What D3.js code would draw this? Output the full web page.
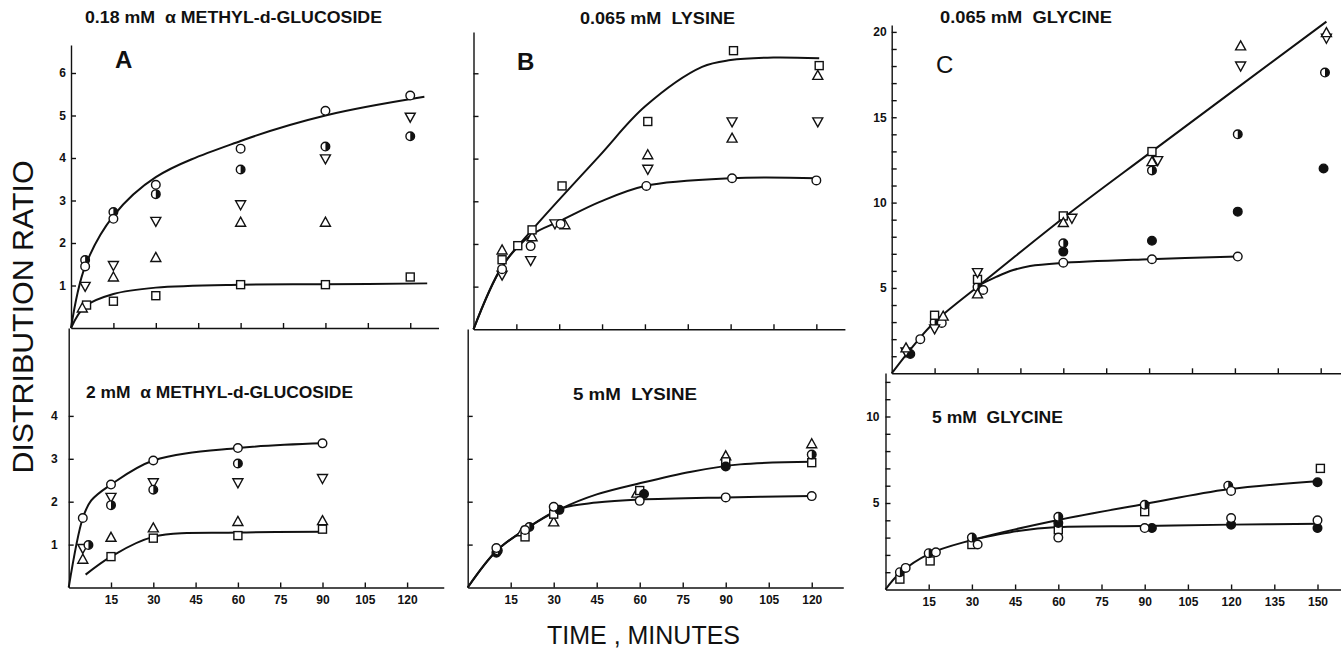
<!DOCTYPE html>
<html lang="en">
<head>
<meta charset="UTF-8">
<title>Distribution ratio vs time</title>
<script src="https://cdn.jsdelivr.net/npm/d3@7"></script>
<style>
    body { margin: 0; background: #fff; }
    svg { display: block; }
    .axis path, .axis line { stroke: #111; stroke-width: 1.4px; }
    .axis text { font-family: "Liberation Sans", Arial, sans-serif; font-weight: bold; font-size: 12px; fill: #111; }
    .fit { fill: none; stroke: #111; stroke-width: 2px; }
    .title { font-family: "Liberation Sans", Arial, sans-serif; font-weight: bold; font-size: 16px; fill: #111; white-space: pre; }
    .big { font-family: "Liberation Sans", Arial, sans-serif; fill: #111; }
</style>
</head>
<body>
<script>

    /*------------------- data (minutes, ratio) --------------------*/
    // A: 0.18 mM alpha methyl-d-glucoside
    const aTopOpen = [[5, 1.45], [15, 2.57], [30, 3.37], [60, 4.22], [90, 5.11], [120, 5.47]];
    const aTopHalf = [[5, 1.6], [15, 2.73], [30, 3.15], [60, 3.73], [90, 4.27], [120, 4.51]];
    const aTopDown = [[5, 0.98], [15, 1.47], [30, 2.51], [60, 2.9], [90, 3.98], [120, 4.96]];
    const aTopUp = [[4, 0.47], [15, 1.2], [30, 1.66], [60, 2.49], [90, 2.49]];
    const aTopSquare = [[5.5, 0.54], [15, 0.63], [30, 0.76], [60, 1.02], [90, 1.02], [120, 1.2]];
    const aTopFitUpper = [[0, 0], [5, 1.45], [15, 2.64], [30, 3.55], [60, 4.4], [90, 5.0], [125, 5.44]];
    const aTopFitLower = [[0, 0], [5, 0.51], [15, 0.8], [30, 0.95], [60, 1.02], [90, 1.03], [126, 1.05]];

    // A: 2 mM alpha methyl-d-glucoside
    const aBotOpen = [[5, 1.62], [15, 2.4], [30, 2.96], [60, 3.25], [90, 3.36]];
    const aBotHalf = [[7, 0.99], [15, 1.92], [30, 2.28], [60, 2.89]];
    const aBotDown = [[5, 0.91], [15, 2.1], [30, 2.44], [60, 2.44], [90, 2.54]];
    const aBotUp = [[5, 0.66], [15, 1.17], [30, 1.39], [60, 1.54], [90, 1.56]];
    const aBotSquare = [[15, 0.72], [30, 1.15], [60, 1.21], [90, 1.36]];
    const aBotFitUpper = [[0, 0], [5, 1.62], [8, 2.03], [15, 2.4], [30, 2.96], [60, 3.25], [90, 3.36]];
    const aBotFitLower = [[6, 0.3], [15, 0.72], [30, 1.18], [60, 1.28], [90, 1.3]];

    // B: 0.065 mM lysine
    const bTopOpen = [[10, 1.41], [20, 1.95], [30.5, 2.47], [60.5, 3.36], [90.5, 3.54], [120, 3.49]];
    const bTopSquare = [[10, 1.63], [15.5, 1.96], [20.5, 2.33], [31, 3.36], [61, 4.87], [91, 6.53], [121, 6.18]];
    const bTopUp = [[10, 1.86], [20.5, 2.17], [32, 2.45], [61, 4.09], [90.5, 4.48], [120.5, 5.95]];
    const bTopDown = [[10, 1.27], [20, 1.61], [28.5, 2.47], [61, 3.75], [90.5, 4.86], [120.5, 4.86]];
    const bTopFitUpper = [[0, 0], [10, 1.47], [20.5, 2.33], [44, 4.06], [60, 5.22], [80, 6.15], [90, 6.31], [105, 6.37], [121, 6.35]];
    const bTopFitLower = [[0, 0], [10, 1.47], [20, 2.2], [31, 2.56], [44, 2.98], [60, 3.36], [90, 3.54], [120, 3.54]];

    // B: 5 mM lysine
    const bBotOpen = [[10, 0.92], [20, 1.34], [30, 1.88], [60, 2.02], [90, 2.1], [120, 2.13]];
    const bBotFilled = [[10, 0.81], [32, 1.81], [61.5, 2.18], [90, 2.82]];
    const bBotHalf = [[10.5, 0.86], [21.5, 1.41], [120, 3.1]];
    const bBotSquare = [[20, 1.18], [30, 1.71], [60, 2.26], [90, 2.93], [120, 2.91]];
    const bBotUp = [[19, 1.3], [30, 1.53], [59, 2.2], [90, 3.07], [120, 3.35]];
    const bBotFitUpper = [[0, 0], [10, 0.85], [20, 1.35], [33, 1.85], [45, 2.17], [60, 2.43], [78, 2.7], [95, 2.87], [120, 2.93]];
    const bBotFitLower = [[0, 0], [10, 0.85], [20, 1.35], [33, 1.85], [45, 1.98], [60, 2.05], [90, 2.1], [120, 2.13]];

    // C: 0.065 mM glycine
    const cTopUp = [[5, 1.49], [18, 3.35], [30, 4.65], [60, 8.83], [91, 12.4], [122, 19.18], [152, 19.96]];
    const cTopDown = [[5, 1.25], [15, 2.6], [30, 5.9], [63, 9.08], [93, 12.46], [122, 18.0], [152, 19.63]];
    const cTopSquare = [[15, 3.4], [30, 5.5], [60, 9.22], [91, 12.99]];
    const cTopOpen = [[10, 2.0], [17.5, 2.95], [32, 4.88], [60, 6.48], [91, 6.68], [121, 6.84]];
    const cTopHalf = [[15, 3.0], [30, 5.05], [60, 7.62], [91, 11.88], [121, 14.0], [151.5, 17.62]];
    const cTopFilled = [[6.5, 1.13], [60, 7.13], [91, 7.77], [121, 9.47], [151, 12.0]];
    const cTopFitMain = [[0, 0], [8, 1.7], [15, 3.0], [31, 5.2], [60, 9.1], [91, 13.0], [152, 20.6]];
    const cTopFitLower = [[31, 5.2], [36.7, 5.66], [42.5, 6.05], [48.4, 6.29], [59, 6.46], [90, 6.68], [121, 6.84]];

    // C: 5 mM glycine
    const cBotSquare = [[5, 0.6], [15.5, 1.65], [30, 2.6], [60, 3.45], [90, 4.5], [151, 7.0]];
    const cBotOpen = [[7, 1.25], [17.5, 2.15], [32, 2.6], [60, 3.0], [90, 3.55], [120, 5.7], [120, 4.13], [150, 4.0]];
    const cBotHalf = [[5, 1.0], [15, 2.1], [30, 3.0], [60, 4.2], [90, 4.9], [119, 6.0]];
    const cBotFilled = [[60, 3.85], [92.5, 3.55], [120, 3.75], [150, 3.55], [150, 6.2]];
    const cBotFitUpper = [[0, 0], [5, 0.95], [15, 2.05], [30, 2.86], [60, 4.02], [90, 4.94], [119, 5.79], [151, 6.27]];
    const cBotFitLower = [[30, 2.86], [46, 3.38], [60, 3.61], [90, 3.67], [120, 3.75], [151, 3.8]];

    const minuteTicksAB = [15, 30, 45, 60, 75, 90, 105, 120];
    const minuteTicksC = [15, 30, 45, 60, 75, 90, 105, 120, 135, 150];

    /*------------------- panel layout --------------------*/
    const panels = [
        { x0: 71, perMin: 2.827, tMax: 130, y0: 328, perUnit: 42.5, yTop: 45, xTicks: minuteTicksAB, xLabels: false,
          yTicks: [1, 2, 3, 4, 5, 6], yLabel: d => d, yPad: 5,
          fits: [aTopFitUpper, aTopFitLower],
          series: [[aTopSquare, "square"], [aTopUp, "up"], [aTopDown, "down"], [aTopHalf, "half"], [aTopOpen, "open"]] },
        { x0: 68.7, perMin: 2.82, tMax: 133, y0: 587.5, perUnit: 42.9, yTop: 328, xTicks: minuteTicksAB, xLabels: true,
          yTicks: [1, 2, 3, 4], yLabel: d => d, yPad: 11,
          fits: [aBotFitUpper, aBotFitLower],
          series: [[aBotSquare, "square"], [aBotUp, "up"], [aBotDown, "down"], [aBotHalf, "half"], [aBotOpen, "open"]] },
        { x0: 473.5, perMin: 2.857, tMax: 130, y0: 329.3, perUnit: 42.67, yTop: 32, xTicks: minuteTicksAB, xLabels: false,
          yTicks: [1, 2, 3, 4, 5, 6], yLabel: () => "", yPad: 4,
          fits: [bTopFitUpper, bTopFitLower],
          series: [[bTopUp, "up"], [bTopDown, "down"], [bTopSquare, "square"], [bTopOpen, "open"]] },
        { x0: 467.7, perMin: 2.867, tMax: 131, y0: 587.5, perUnit: 42.9, yTop: 329, xTicks: minuteTicksAB, xLabels: true,
          yTicks: [1, 2, 3, 4], yLabel: () => "", yPad: 4,
          fits: [bBotFitUpper, bBotFitLower],
          series: [[bBotUp, "up"], [bBotSquare, "square"], [bBotFilled, "filled"], [bBotHalf, "half"], [bBotOpen, "open"]] },
        { x0: 891.7, perMin: 2.86, tMax: 157, y0: 373.3, perUnit: 17.07, yTop: 25, xTicks: minuteTicksC, xLabels: false,
          yTicks: d3.range(1, 21), yLabel: d => d % 5 === 0 ? d : "", yPad: 5,
          fits: [cTopFitMain, cTopFitLower],
          series: [[cTopFilled, "filled"], [cTopHalf, "half"], [cTopOpen, "open"], [cTopSquare, "square"], [cTopDown, "down"], [cTopUp, "up"]] },
        { x0: 885.5, perMin: 2.88, tMax: 158, y0: 589.5, perUnit: 17.3, yTop: 373, xTicks: minuteTicksC, xLabels: true,
          yTicks: d3.range(1, 13), yLabel: d => d % 5 === 0 ? d : "", yPad: 6,
          fits: [cBotFitUpper, cBotFitLower],
          series: [[cBotSquare, "square"], [cBotFilled, "filled"], [cBotHalf, "half"], [cBotOpen, "open"]] }
    ];

    const svg = d3.select("body").append("svg")
        .attr("width", 1341)
        .attr("height", 650);

    function drawMarker(g, kind, cx, cy) {
        const r = 4.3;
        if (kind === "open" || kind === "filled" || kind === "half") {
            g.append("circle")
                .attr("cx", cx).attr("cy", cy).attr("r", r)
                .attr("fill", kind === "filled" ? "#111" : "#fff")
                .attr("stroke", "#111").attr("stroke-width", 1.4);
            if (kind === "half") {
                g.append("path")
                    .attr("d", `M${cx},${cy - r} A${r},${r} 0 0 1 ${cx},${cy + r} Z`)
                    .attr("fill", "#111");
            }
        } else if (kind === "square") {
            g.append("rect")
                .attr("x", cx - 4).attr("y", cy - 4).attr("width", 8).attr("height", 8)
                .attr("fill", "#fff").attr("stroke", "#111").attr("stroke-width", 1.4);
        } else {
            const s = kind === "up" ? 1 : -1;
            g.append("path")
                .attr("d", `M${cx},${cy - 5 * s} L${cx + 5},${cy + 4 * s} L${cx - 5},${cy + 4 * s} Z`)
                .attr("fill", "#fff").attr("stroke", "#111").attr("stroke-width", 1.4);
        }
    }

    panels.forEach(p => {
        const x = d3.scaleLinear()
            .domain([0, p.tMax])
            .range([p.x0, p.x0 + p.tMax * p.perMin]);
        const y = d3.scaleLinear()
            .domain([0, (p.y0 - p.yTop) / p.perUnit])
            .range([p.y0, p.yTop]);

        const g = svg.append("g");

        g.append("g")
            .attr("class", "axis")
            .attr("transform", `translate(0,${p.y0})`)
            .call(d3.axisBottom(x)
                .tickValues(p.xTicks)
                .tickSize(-5)
                .tickSizeOuter(0)
                .tickPadding(8)
                .tickFormat(p.xLabels ? d => d : () => ""));

        g.append("g")
            .attr("class", "axis")
            .attr("transform", `translate(${p.x0},0)`)
            .call(d3.axisLeft(y)
                .tickValues(p.yTicks)
                .tickSize(-5)
                .tickSizeOuter(0)
                .tickPadding(p.yPad)
                .tickFormat(p.yLabel));

        // smooth hand-drawn fitted curves
        const line = d3.line()
            .x(d => x(d[0]))
            .y(d => y(d[1]))
            .curve(d3.curveCatmullRom.alpha(0.5));

        g.selectAll("path.fit")
            .data(p.fits)
            .enter()
            .append("path")
            .attr("class", "fit")
            .attr("d", line);

        p.series.forEach(([pts, kind]) => {
            pts.forEach(d => drawMarker(g, kind, x(d[0]), y(d[1])));
        });
    });

    /*------------------- texts --------------------*/
    const titles = [
        ["0.18 mM  \u03b1 METHYL-d-GLUCOSIDE", 85, 23, 297],
        ["2 mM  \u03b1 METHYL-d-GLUCOSIDE", 86, 398, 267],
        ["0.065 mM  LYSINE", 580, 24, 155],
        ["5 mM  LYSINE", 573, 400, 124],
        ["0.065 mM  GLYCINE", 940, 23, 172],
        ["5 mM  GLYCINE", 932, 423, 131]
    ];
    svg.selectAll("text.title")
        .data(titles)
        .enter()
        .append("text")
        .attr("class", "title")
        .attr("x", d => d[1])
        .attr("y", d => d[2])
        .attr("textLength", d => d[3])
        .attr("lengthAdjust", "spacingAndGlyphs")
        .text(d => d[0]);

    [["A", 115, 68, "bold"], ["B", 517, 70, "bold"], ["C", 936, 73, "normal"]].forEach(d => {
        svg.append("text")
            .attr("class", "big")
            .attr("x", d[1]).attr("y", d[2])
            .attr("font-size", 24)
            .attr("font-weight", d[3])
            .text(d[0]);
    });

    svg.append("text")
        .attr("class", "big")
        .attr("transform", "translate(33,317) rotate(-90)")
        .attr("text-anchor", "middle")
        .attr("font-size", 29)
        .attr("textLength", 313)
        .attr("lengthAdjust", "spacingAndGlyphs")
        .text("DISTRIBUTION RATIO");

    svg.append("text")
        .attr("class", "big")
        .attr("x", 547).attr("y", 644)
        .attr("font-size", 26)
        .attr("textLength", 193)
        .attr("lengthAdjust", "spacingAndGlyphs")
        .text("TIME , MINUTES");
</script>
</body>
</html>
